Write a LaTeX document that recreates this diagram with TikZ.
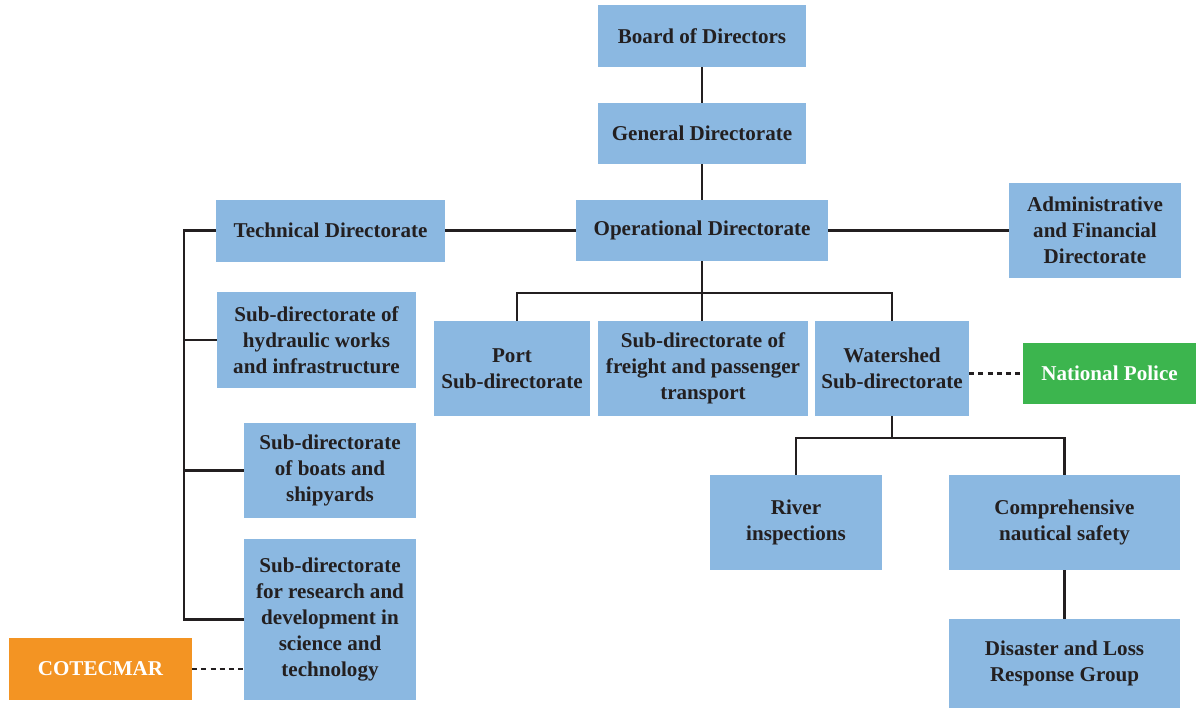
\documentclass[tikz,border=0pt]{standalone}
\usepackage{fontspec}
\setmainfont{Liberation Serif}
\usetikzlibrary{positioning}
\definecolor{boxblue}{HTML}{8BB8E1}
\definecolor{polgreen}{HTML}{3CB54E}
\definecolor{cotorange}{HTML}{F39423}
\definecolor{inkdark}{HTML}{231F20}
\tikzset{
  unit/.style={fill=boxblue, text=inkdark, align=center, inner sep=0pt,
    font=\fontsize{12}{14.7}\selectfont\bfseries},
  extern/.style={unit, text=white},
  link/.style={draw=inkdark, line width=1.5pt},
  coop/.style={draw=inkdark, line width=1.4pt, dash pattern=on 2.8pt off 2.4pt}
}
\begin{document}
\begin{tikzpicture}[x=0.02cm, y=-0.02cm]
            \useasboundingbox (0,0) rectangle (1199,708);
            \node[unit, minimum width=4.16cm, minimum height=1.24cm] (board) at (702,36) {Board of Directors};
            \node[unit, minimum width=4.16cm, minimum height=1.22cm] (general) at (702,133.5) {General Directorate};
            \node[unit, minimum width=5.04cm, minimum height=1.22cm] (oper) at (702,230.5) {Operational Directorate};
            \node[unit, minimum width=4.58cm, minimum height=1.24cm] (tech) at (330.5,230.5) {Technical Directorate};
            \node[unit, minimum width=3.44cm, minimum height=1.9cm] (admin) at (1095,230.5) {Administrative\\and Financial\\Directorate};
            \node[unit, minimum width=3.98cm, minimum height=1.92cm] (hydr) at (316.5,340) {Sub-directorate of\\hydraulic works\\and infrastructure};
            \node[unit, minimum width=3.44cm, minimum height=1.9cm] (boats) at (330,470.5) {Sub-directorate\\of boats and\\shipyards};
            \node[unit, minimum width=3.44cm, minimum height=3.22cm] (research) at (330,619.5) {Sub-directorate\\for research and\\development in\\science and\\technology};
            \node[extern, fill=cotorange, minimum width=3.66cm, minimum height=1.24cm] (cotecmar) at (100.5,669) {COTECMAR};
            \node[unit, minimum width=3.12cm, minimum height=1.9cm] (port) at (512,368.5) {Port\\Sub-directorate};
            \node[unit, minimum width=4.2cm, minimum height=1.9cm] (freight) at (703,368.5) {Sub-directorate of\\freight and passenger\\transport};
            \node[unit, minimum width=3.08cm, minimum height=1.9cm] (water) at (892,368.5) {Watershed\\Sub-directorate};
            \node[extern, fill=polgreen, minimum width=3.46cm, minimum height=1.22cm] (police) at (1109.5,373.5) {National Police};
            \node[unit, minimum width=3.44cm, minimum height=1.9cm] (river) at (796,522.5) {River\\inspections};
            \node[unit, minimum width=4.62cm, minimum height=1.9cm] (safety) at (1064.5,522.5) {Comprehensive\\nautical safety};
            \node[unit, minimum width=4.62cm, minimum height=1.78cm] (disaster) at (1064.5,663.5) {Disaster and Loss\\Response Group};
            % vertical chain
            \draw[link] (board) -- (general);
            \draw[link] (general) -- (oper);
            \draw[link] (tech) -- (oper);
            \draw[link] (oper) -- (admin);
            % left column
            \coordinate (lbus) at (184,230.5);
            \draw[link] (tech.west) -- (lbus) -- (lbus |- research) -- (research.west);
            \draw[link] (lbus |- hydr) -- (hydr.west);
            \draw[link] (lbus |- boats) -- (boats.west);
            % operational branches
            \coordinate (obus) at (702,293);
            \coordinate (pdrop) at (517,293);
            \draw[link] (oper.south) -- (obus);
            \draw[link] (pdrop |- port.north) -- (pdrop) -| (water.north);
            \draw[link] (obus) -- (obus |- freight.north);
            % watershed branches
            \coordinate (wbus) at (892,438);
            \draw[link] (water.south) -- (wbus);
            \draw[link] (river.north) |- (wbus) -| (safety.north);
            \draw[link] (safety) -- (disaster);
            % external partners
            \draw[coop] (police.west -| water.east) -- (police.west);
            \draw[coop] (cotecmar.east) -- (research.west |- cotecmar);
        \end{tikzpicture}
\end{document}
